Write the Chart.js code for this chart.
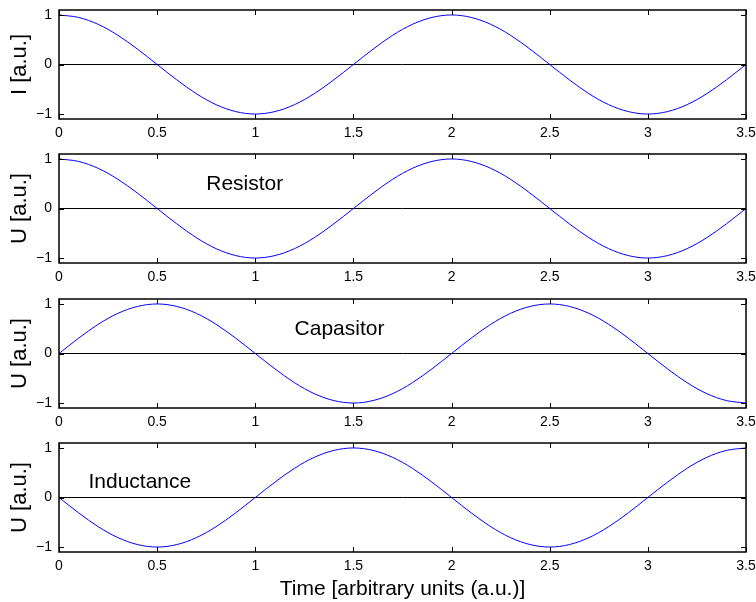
<!DOCTYPE html>
<html>
<head>
<meta charset="utf-8">
<script src="https://cdn.jsdelivr.net/npm/chart.js@4.4.1/dist/chart.umd.min.js"></script>
<style>
    html, body { margin: 0; padding: 0; background: #fff; }
    #fig { position: relative; width: 756px; height: 602px; overflow: hidden; }
    .panel { position: absolute; left: 0; width: 756px; }
</style>
</head>
<body>
<div id="fig"></div>
<script>
const time = [0, 0.1, 0.2, 0.3, 0.4, 0.5, 0.6, 0.7, 0.8, 0.9, 1, 1.1, 1.2, 1.3, 1.4, 1.5, 1.6, 1.7, 1.8, 1.9,
    2, 2.1, 2.2, 2.3, 2.4, 2.5, 2.6, 2.7, 2.8, 2.9, 3, 3.1, 3.2, 3.3, 3.4, 3.5];
const current = [1, 0.95, 0.81, 0.59, 0.31, 0, -0.31, -0.59, -0.81, -0.95, -1, -0.95, -0.81, -0.59, -0.31, 0, 0.31, 0.59, 0.81, 0.95,
    1, 0.95, 0.81, 0.59, 0.31, 0, -0.31, -0.59, -0.81, -0.95, -1, -0.95, -0.81, -0.59, -0.31, 0];
const uResistor = [1, 0.95, 0.81, 0.59, 0.31, 0, -0.31, -0.59, -0.81, -0.95, -1, -0.95, -0.81, -0.59, -0.31, 0, 0.31, 0.59, 0.81, 0.95,
    1, 0.95, 0.81, 0.59, 0.31, 0, -0.31, -0.59, -0.81, -0.95, -1, -0.95, -0.81, -0.59, -0.31, 0];
const uCapacitor = [0, 0.31, 0.59, 0.81, 0.95, 1, 0.95, 0.81, 0.59, 0.31, 0, -0.31, -0.59, -0.81, -0.95, -1, -0.95, -0.81, -0.59, -0.31,
    0, 0.31, 0.59, 0.81, 0.95, 1, 0.95, 0.81, 0.59, 0.31, 0, -0.31, -0.59, -0.81, -0.95, -1];
const uInductance = [0, -0.31, -0.59, -0.81, -0.95, -1, -0.95, -0.81, -0.59, -0.31, 0, 0.31, 0.59, 0.81, 0.95, 1, 0.95, 0.81, 0.59, 0.31,
    0, -0.31, -0.59, -0.81, -0.95, -1, -0.95, -0.81, -0.59, -0.31, 0, 0.31, 0.59, 0.81, 0.95, 1];

const xTicks = [0, 0.5, 1, 1.5, 2, 2.5, 3, 3.5];
const yTicks = [-1, 0, 1];
const zeroLineX = [0, 3.5];
const zeroLineY = [0, 0];

const series = [current, uResistor, uCapacitor, uInductance];
const yTitles = ['I [a.u.]', 'U [a.u.]', 'U [a.u.]', 'U [a.u.]'];
const notes = ['', 'Resistor', 'Capasitor', 'Inductance'];
const noteX = [null, 0.75, 1.2, 0.15];
const noteY = [null, 0.5, 0.5, 0.3];
const xTitle = 'Time [arbitrary units (a.u.)]';

const FONT = '"Liberation Sans", Arial, Helvetica, sans-serif';
const plotTops = [10, 154, 299, 443];
const padTop = 8;
const plotH = 109;

// MATLAB style box with inward ticks and a text label
const matlabBox = {
    id: 'matlabBox',
    afterDatasetsDraw(chart, args, opts) {
        const { ctx, chartArea: a, scales: { x, y } } = chart;
        ctx.save();
        ctx.strokeStyle = '#000';
        ctx.lineWidth = 1;
        ctx.beginPath();
        xTicks.forEach((v) => {
            const px = Math.round(x.getPixelForValue(v)) + 0.5;
            ctx.moveTo(px, a.bottom); ctx.lineTo(px, a.bottom - 5);
            ctx.moveTo(px, a.top); ctx.lineTo(px, a.top + 5);
        });
        yTicks.forEach((v) => {
            const py = Math.round(y.getPixelForValue(v)) + 0.5;
            ctx.moveTo(a.left, py); ctx.lineTo(a.left + 5, py);
            ctx.moveTo(a.right, py); ctx.lineTo(a.right - 5, py);
        });
        ctx.stroke();
        ctx.lineWidth = 1.5;
        ctx.strokeRect(a.left, a.top, a.right - a.left, a.bottom - a.top);
        if (opts.text) {
            ctx.fillStyle = '#000';
            ctx.font = '21px ' + FONT;
            ctx.textAlign = 'left';
            ctx.textBaseline = 'middle';
            ctx.fillText(opts.text, x.getPixelForValue(opts.x), y.getPixelForValue(opts.y));
        }
        ctx.restore();
    },
};

const fig = document.getElementById('fig');

series.forEach((values, i) => {
    const last = i === series.length - 1;
    const top = plotTops[i] - padTop;
    const height = last ? 602 - top : 145;
    const axisH = height - padTop - plotH;

    const wrap = document.createElement('div');
    wrap.className = 'panel';
    wrap.style.top = top + 'px';
    wrap.style.height = height + 'px';
    const canvas = document.createElement('canvas');
    canvas.width = 756;
    canvas.height = height;
    wrap.appendChild(canvas);
    fig.appendChild(wrap);

    new Chart(canvas, {
        type: 'line',
        data: {
            datasets: [
                {
                    data: time.map((t, k) => ({ x: t, y: values[k] })),
                    borderColor: '#0000ff',
                    borderWidth: 1,
                    pointRadius: 0,
                    cubicInterpolationMode: 'monotone',
                },
                {
                    data: zeroLineX.map((t, k) => ({ x: t, y: zeroLineY[k] })),
                    borderColor: '#000',
                    borderWidth: 1,
                    pointRadius: 0,
                },
            ],
        },
        options: {
            responsive: false,
            animation: false,
            layout: { autoPadding: false, padding: { top: padTop, right: 10, bottom: 0, left: 0 } },
            plugins: {
                legend: { display: false },
                tooltip: { enabled: false },
                matlabBox: { text: notes[i], x: noteX[i], y: noteY[i] },
            },
            scales: {
                x: {
                    type: 'linear',
                    min: 0,
                    max: 3.5,
                    afterBuildTicks: (s) => { s.ticks = xTicks.map((v) => ({ value: v })); },
                    afterFit: (s) => { s.height = axisH; s.paddingLeft = 0; s.paddingRight = 0; },
                    grid: { display: false, drawTicks: false },
                    border: { display: false },
                    ticks: {
                        color: '#000',
                        padding: 6,
                        maxRotation: 0,
                        autoSkip: false,
                        font: { family: FONT, size: 14 },
                        callback: (v) => String(v),
                    },
                    title: {
                        display: last,
                        text: xTitle,
                        color: '#000',
                        font: { family: FONT, size: 21 },
                        padding: { top: 0, bottom: 0 },
                    },
                },
                y: {
                    min: -1.1,
                    max: 1.1,
                    afterBuildTicks: (s) => { s.ticks = yTicks.map((v) => ({ value: v })); },
                    afterFit: (s) => { s.width = 59; s.paddingTop = 0; s.paddingBottom = 0; },
                    grid: { display: false, drawTicks: false },
                    border: { display: false },
                    ticks: {
                        color: '#000',
                        padding: 7,
                        font: { family: FONT, size: 14 },
                        callback: (v) => (v < 0 ? '\u2212' + Math.abs(v) : String(v)),
                    },
                    title: {
                        display: true,
                        text: yTitles[i],
                        color: '#000',
                        font: { family: FONT, size: 22 },
                        padding: { top: 7, bottom: 0 },
                    },
                },
            },
        },
        plugins: [matlabBox],
    });
});
</script>
</body>
</html>
